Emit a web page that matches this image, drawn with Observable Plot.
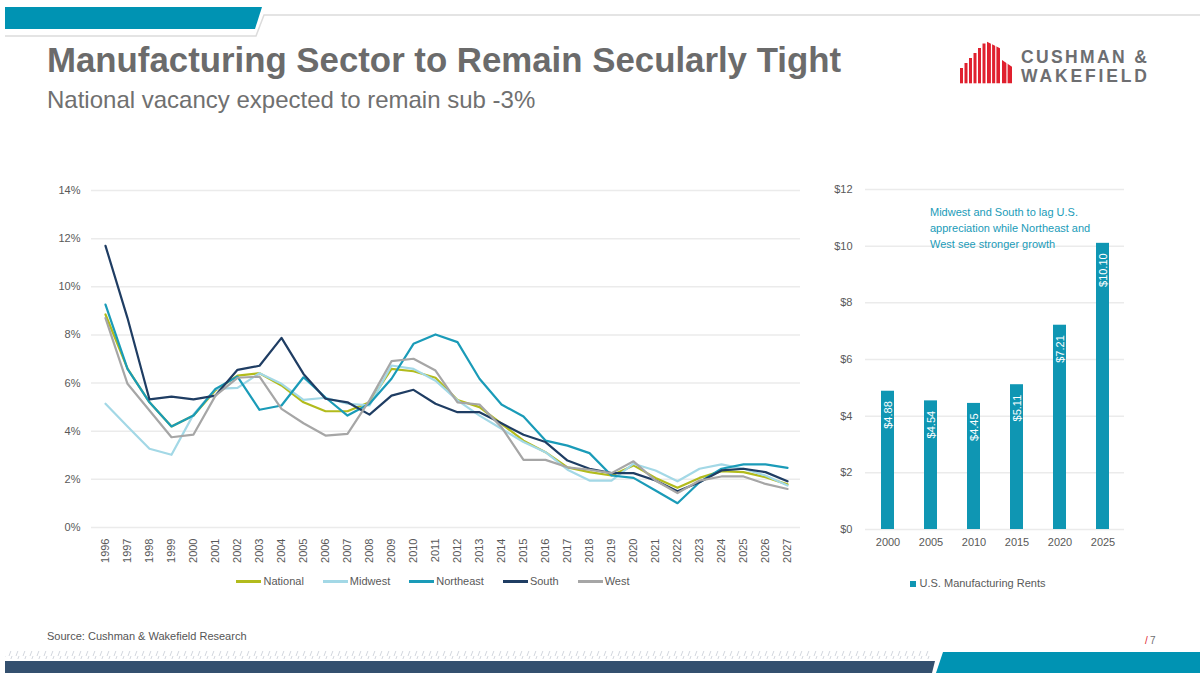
<!DOCTYPE html>
<html>
<head>
<meta charset="utf-8">
<script src="https://cdn.jsdelivr.net/npm/d3@7"></script>
<script src="https://cdn.jsdelivr.net/npm/@observablehq/plot@0.6"></script>
<style>
  html, body { margin: 0; padding: 0; background: #fff; }
  body { width: 1200px; height: 683px; position: relative; overflow: hidden; font-family: "Liberation Sans", Arial, sans-serif; }
  .abs { position: absolute; }
  h1.title { margin: 0; left: 47px; top: 43px; font-size: 34.8px; line-height: 1; font-weight: bold; color: #6b6b6b; white-space: nowrap; }
  h2.subtitle { margin: 0; left: 47px; top: 88px; font-size: 24px; line-height: 1; font-weight: normal; color: #707070; white-space: nowrap; }
  .source { left: 47px; top: 631px; font-size: 11px; line-height: 1; color: #555; }
  .legend { display: flex; justify-content: center; align-items: center; font-size: 11px; color: #595959; line-height: 1; }
  .legend .item { display: flex; align-items: center; }
  .legend .sw { display: inline-block; width: 25px; height: 3px; margin-right: 2px; }
  .legend .sq { display: inline-block; width: 6px; height: 6px; margin-right: 4px; }
  .note { left: 930px; top: 204px; font-size: 11px; line-height: 16px; color: #1a9bb8; white-space: nowrap; }
</style>
</head>
<body>
<svg class="abs" id="deco" width="1200" height="683" style="left:0;top:0">
  <defs>
    <pattern id="hatch" width="7" height="8" patternUnits="userSpaceOnUse">
      <line x1="2" y1="8" x2="5" y2="0" stroke="#d3d7de" stroke-width="1"/>
    </pattern>
  </defs>
  <!-- header -->
  <polygon points="5,7 262,7 255,29 5,29" fill="#0093b3"/>
  <polyline points="5,36 256,36 264,15 1200,15" fill="none" stroke="#dcdcdc" stroke-width="1.5"/>
  <!-- logo -->
  <g fill="#e0202e">
    <rect x="960" y="68" width="3" height="15.3"/>
    <rect x="964.5" y="63" width="3" height="20.3"/>
    <rect x="969" y="58" width="3" height="25.3"/>
    <rect x="973.5" y="53" width="3" height="30.3"/>
    <rect x="978" y="48" width="3" height="35.3"/>
    <rect x="982.5" y="43.5" width="3" height="39.8"/>
    <polygon points="987,41.7 1000,48.3 1000,83.3 987,83.3"/>
    <polygon points="1002,60 1012,66.7 1012,83.3 1002,83.3"/>
  </g>
  <g stroke="#fff" stroke-width="1.2">
    <line x1="991.5" y1="40" x2="991.5" y2="84"/>
    <line x1="995.8" y1="40" x2="995.8" y2="84"/>
    <line x1="1007" y1="58" x2="1007" y2="84"/>
  </g>
  <text x="1021" y="62.5" font-size="17.5" font-weight="bold" fill="#6d6e71" textLength="126" lengthAdjust="spacing">CUSHMAN &amp;</text>
  <text x="1021" y="82" font-size="17.5" font-weight="bold" fill="#6d6e71" textLength="126" lengthAdjust="spacing">WAKEFIELD</text>
  <!-- footer -->
  <rect x="5" y="651" width="925" height="8" fill="url(#hatch)"/>
  <polygon points="5,661 935,661 932,673 5,673" fill="#34506f"/>
  <polygon points="943,652 1200,652 1200,673 936,673" fill="#0093b3"/>
  <text x="1145" y="644" font-size="10" fill="#e0202e">/</text>
  <text x="1150" y="644" font-size="10" fill="#6d6e71">7</text>
</svg>

<h1 class="abs title">Manufacturing Sector to Remain Secularly Tight</h1>
<h2 class="abs subtitle">National vacancy expected to remain sub -3%</h2>

<div class="abs" id="left" style="left:0;top:170px"></div>
<div class="abs legend" id="leftLegend" style="left:0;top:576px;width:866px"></div>
<div class="abs" id="right" style="left:800px;top:170px"></div>
<div class="abs legend" id="rightLegend" style="left:800px;top:578px;width:355px"></div>
<div class="abs note">Midwest and South to lag U.S.<br>appreciation while Northeast and<br>West see stronger growth</div>
<div class="abs source">Source: Cushman &amp; Wakefield Research</div>

<script>
// ---- Data: national / regional industrial (manufacturing) vacancy, % ----
const years = [1996, 1997, 1998, 1999, 2000, 2001, 2002, 2003, 2004, 2005, 2006, 2007, 2008, 2009, 2010, 2011,
               2012, 2013, 2014, 2015, 2016, 2017, 2018, 2019, 2020, 2021, 2022, 2023, 2024, 2025, 2026, 2027];
const national  = [8.85, 6.6, 5.2, 4.2, 4.65, 5.7, 6.31, 6.41, 5.9, 5.2, 4.83, 4.83, 5.2, 6.59, 6.49, 6.22,
                   5.3, 5.0, 4.31, 3.61, 3.13, 2.5, 2.3, 2.16, 2.58, 2.06, 1.65, 2.06, 2.34, 2.3, 2.09, 1.79];
const midwest   = [5.14, 4.2, 3.27, 3.02, 4.7, 5.76, 5.8, 6.41, 5.97, 5.3, 5.39, 5.14, 5.07, 6.73, 6.59, 6.1,
                   5.28, 4.65, 4.1, 3.55, 3.13, 2.4, 1.95, 1.95, 2.65, 2.37, 1.92, 2.44, 2.62, 2.44, 2.16, 1.74];
const northeast = [9.26, 6.59, 5.2, 4.2, 4.65, 5.76, 6.27, 4.89, 5.07, 6.24, 5.4, 4.65, 5.14, 6.18, 7.63, 8.02,
                   7.7, 6.18, 5.11, 4.61, 3.61, 3.4, 3.09, 2.16, 2.06, 1.54, 1.01, 1.88, 2.44, 2.62, 2.62, 2.48];
const south     = [11.7, 8.7, 5.32, 5.44, 5.32, 5.48, 6.55, 6.72, 7.88, 6.38, 5.35, 5.2, 4.69, 5.48, 5.72, 5.14,
                   4.79, 4.79, 4.33, 3.85, 3.55, 2.78, 2.44, 2.26, 2.26, 1.95, 1.51, 1.88, 2.37, 2.44, 2.3, 1.92];
const west      = [8.7, 5.97, 4.86, 3.75, 3.86, 5.48, 6.22, 6.27, 4.93, 4.33, 3.82, 3.89, 5.28, 6.91, 7.01, 6.52,
                   5.2, 5.11, 4.17, 2.81, 2.81, 2.5, 2.4, 2.26, 2.75, 1.95, 1.43, 1.95, 2.12, 2.12, 1.81, 1.6];
const seriesNames  = ["National", "Midwest", "Northeast", "South", "West"];
const seriesColors = ["#b2bb1c", "#a3d8e6", "#1a9bb8", "#1f3d63", "#a6a6a6"];
const vacancyTicks = [0, 2, 4, 6, 8, 10, 12, 14];

// ---- Data: U.S. manufacturing rents, $/sf ----
const rentYears = ["2000", "2005", "2010", "2015", "2020", "2025"];
const rents = [4.88, 4.54, 4.45, 5.11, 7.21, 10.10];
const rentTicks = [0, 2, 4, 6, 8, 10, 12];
const rentSeriesName = "U.S. Manufacturing Rents";
const rentColor = "#0f96b3";

// ---- Build tables ----
const seriesValues = [national, midwest, northeast, south, west];
const rows = [];
seriesNames.forEach((name, si) => {
  years.forEach((yr, i) => rows.push({year: yr, value: seriesValues[si][i], series: name}));
});
const rentRows = rentYears.map((y, i) => ({year: y, rent: rents[i]}));

const baseStyle = {fontFamily: "'Liberation Sans', Arial, sans-serif", fontSize: "11px", color: "#595959", background: "transparent", overflow: "visible"};

const left = Plot.plot({
  width: 820, height: 402,
  marginLeft: 91, marginRight: 20, marginTop: 20, marginBottom: 45,
  style: baseStyle,
  x: {type: "point", domain: years, padding: 0.5, label: null},
  y: {domain: [0, 14], label: null},
  color: {domain: seriesNames, range: seriesColors},
  marks: [
    Plot.ruleY(vacancyTicks, {stroke: "#ebebeb", strokeWidth: 1.5}),
    Plot.axisY({ticks: vacancyTicks, tickSize: 0, tickPadding: 11, tickFormat: d => d + "%", label: null}),
    Plot.axisX({tickSize: 0, tickPadding: 11, tickRotate: -90, tickFormat: d => String(d), label: null}),
    Plot.line(rows, {x: "year", y: "value", z: "series", stroke: "series", strokeWidth: 2.2})
  ]
});
document.getElementById("left").appendChild(left);

const right = Plot.plot({
  width: 340, height: 389,
  marginLeft: 65, marginRight: 16, marginTop: 19, marginBottom: 30,
  style: baseStyle,
  x: {type: "band", domain: rentYears, paddingInner: 0.7, paddingOuter: 0.35, label: null},
  y: {domain: [0, 12], label: null},
  marks: [
    Plot.ruleY(rentTicks, {stroke: "#ebebeb", strokeWidth: 1.5}),
    Plot.axisY({ticks: rentTicks, tickSize: 0, tickPadding: 13, tickFormat: d => "$" + d, label: null}),
    Plot.axisX({tickSize: 0, tickPadding: 9, label: null}),
    Plot.barY(rentRows, {x: "year", y: "rent", fill: rentColor}),
    Plot.text(rentRows, {x: "year", y: "rent", text: d => "$" + d.rent.toFixed(2), rotate: -90, textAnchor: "end", dy: 10, fill: "#fff", fontSize: 11})
  ]
});
document.getElementById("right").appendChild(right);

// ---- Legends ----
const ll = document.getElementById("leftLegend");
seriesNames.forEach((name, i) => {
  const item = document.createElement("span");
  item.className = "item";
  item.style.marginRight = i < seriesNames.length - 1 ? "19px" : "0";
  item.innerHTML = `<span class="sw" style="background:${seriesColors[i]}"></span>${name}`;
  ll.appendChild(item);
});
const rl = document.getElementById("rightLegend");
rl.innerHTML = `<span class="item"><span class="sq" style="background:${rentColor}"></span>${rentSeriesName}</span>`;
</script>
</body>
</html>
